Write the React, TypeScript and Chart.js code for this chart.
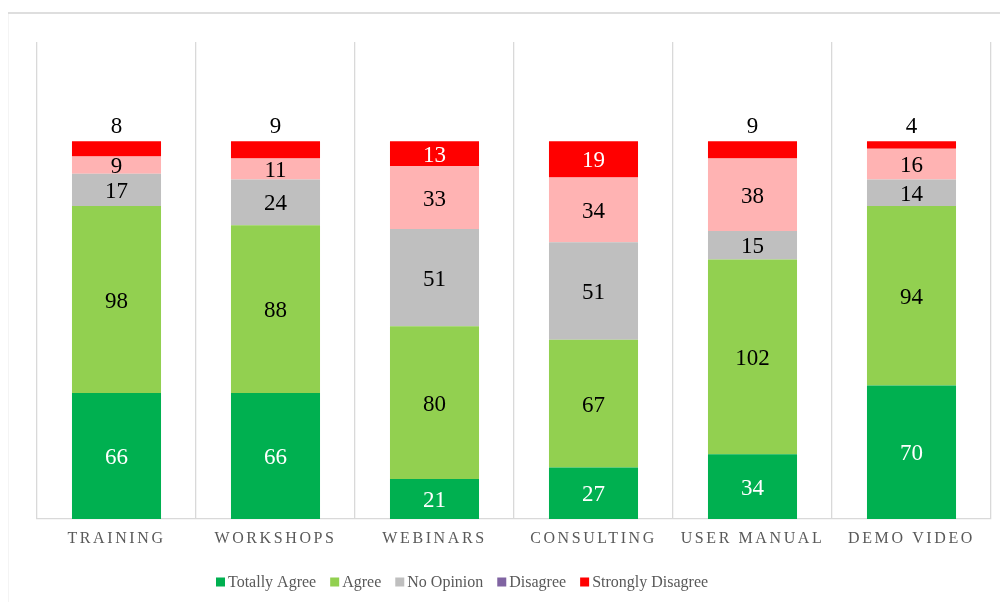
import React, { useEffect, useRef } from "react";
import { Chart, registerables } from "chart.js";

Chart.register(...registerables);

const categories = ["TRAINING", "WORKSHOPS", "WEBINARS", "CONSULTING", "USER MANUAL", "DEMO VIDEO"];
const totallyAgree = [66, 66, 21, 27, 34, 70];
const agree = [98, 88, 80, 67, 102, 94];
const noOpinion = [17, 24, 51, 51, 15, 14];
const disagree = [9, 11, 33, 34, 38, 16];
const stronglyDisagree = [8, 9, 13, 19, 9, 4];
const seriesNames = ["Totally Agree", "Agree", "No Opinion", "Disagree", "Strongly Disagree"];
const barColors = ["#00B050", "#92D050", "#BFBFBF", "#FFB3B3", "#FF0000"];
const legendColors = ["#00B050", "#92D050", "#BFBFBF", "#8064A2", "#FF0000"];
const labelColors = ["#FFFFFF", "#000000", "#000000", "#000000", "#FFFFFF"];

const FONT = "'Liberation Serif', 'Times New Roman', serif";

const overlayPlugin = {
  id: "overlay",
  beforeDraw(chart: any) {
    const ctx = chart.ctx;
    ctx.save();
    ctx.fillStyle = "#FFFFFF";
    ctx.fillRect(0, 0, chart.width, chart.height);
    ctx.strokeStyle = "#D4D4D4";
    ctx.lineWidth = 1.5;
    ctx.beginPath();
    ctx.moveTo(7.5, chart.height + 5);
    ctx.lineTo(7.5, 13);
    ctx.lineTo(chart.width + 5, 13);
    ctx.stroke();
    ctx.restore();
  },
  afterDatasetsDraw(chart: any) {
    const ctx = chart.ctx;
    ctx.save();
    ctx.font = `23px ${FONT}`;
    ctx.textAlign = "center";
    ctx.textBaseline = "middle";
    chart.data.datasets.forEach((ds: any, di: number) => {
      const meta = chart.getDatasetMeta(di);
      meta.data.forEach((el: any, i: number) => {
        const v = ds.data[i];
        const { x, y, base } = el.getProps(["x", "y", "base"], true);
        if (di === 4 && v < 10) {
          ctx.fillStyle = "#000000";
          ctx.fillText(String(v), x, y - 14);
        } else {
          ctx.fillStyle = labelColors[di];
          ctx.fillText(String(v), x, (y + base) / 2 + 2);
        }
      });
    });
    ctx.restore();
  },
  afterDraw(chart: any) {
    const ctx = chart.ctx;
    const xs = chart.scales.x;
    ctx.save();
    // category labels
    ctx.font = `16px ${FONT}`;
    (ctx as any).letterSpacing = "2.6px";
    ctx.fillStyle = "#595959";
    ctx.textAlign = "center";
    ctx.textBaseline = "middle";
    categories.forEach((c, i) => {
      const px = xs.getPixelForTick(i);
      ctx.fillText(c, px, 539);
    });
    (ctx as any).letterSpacing = "0px";
    // legend
    ctx.font = `16px ${FONT}`;
    ctx.textAlign = "left";
    let lx = 216;
    const ly = 582;
    seriesNames.forEach((name, i) => {
      ctx.fillStyle = legendColors[i];
      ctx.fillRect(lx, ly - 4.5, 9, 9);
      ctx.fillStyle = "#595959";
      ctx.fillText(name, lx + 12, ly + 1);
      lx += 12 + ctx.measureText(name).width + 14;
    });
    ctx.restore();
  },
};

export default function App() {
  const ref = useRef<HTMLCanvasElement>(null);
  useEffect(() => {
    if (!ref.current) return;
    const chart = new Chart(ref.current, {
      type: "bar",
      data: {
        labels: categories,
        datasets: [totallyAgree, agree, noOpinion, disagree, stronglyDisagree].map((d, i) => ({
          label: seriesNames[i],
          data: d,
          backgroundColor: barColors[i],
          borderWidth: 0,
          categoryPercentage: 1,
          barPercentage: 0.56,
        })),
      },
      options: {
        responsive: false,
        animation: false,
        layout: { padding: { left: 37, right: 17, top: 42, bottom: 91 } },
        plugins: { legend: { display: false }, tooltip: { enabled: false } },
        scales: {
          x: {
            stacked: true,
            ticks: { display: false },
            grid: { color: "#D9D9D9", lineWidth: 1.3, drawTicks: false, offset: true },
            border: { color: "#D9D9D9", width: 1.3 },
          },
          y: {
            stacked: true,
            display: false,
            min: 0,
            max: 250,
          },
        },
      },
      plugins: [overlayPlugin],
    });
    return () => chart.destroy();
  }, []);
  return (
    <div style={{ position: "relative", width: 1008, height: 610, margin: -8, overflow: "hidden", background: "#fff" }}>
      <canvas ref={ref} width={1008} height={610} style={{ position: "absolute", left: 0, top: 0 }} />
    </div>
  );
}
